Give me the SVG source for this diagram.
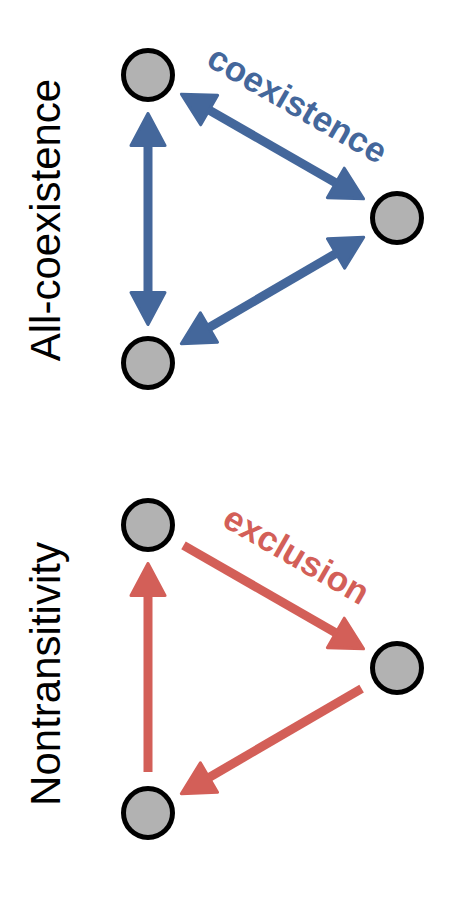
<svg xmlns="http://www.w3.org/2000/svg" width="450" height="900" viewBox="0 0 450 900">
<style>
.node{fill:#B2B2B2;stroke:#000;stroke-width:5}
.blue{stroke:#44679B;stroke-width:9;fill:none}
.red{stroke:#D35F58;stroke-width:9;fill:none}
.side{font-family:"Liberation Sans",Arial,sans-serif;font-size:42px;fill:#000}
.lab{font-family:"Liberation Sans",Arial,sans-serif;font-size:35px;font-weight:bold}
</style>
<defs>
<marker id="hb" viewBox="0 0 36 40" refX="12" refY="20" markerWidth="36" markerHeight="40" markerUnits="userSpaceOnUse" orient="auto-start-reverse">
<path d="M2,3 L34,20 L2,37 Z" fill="#44679B" stroke="#44679B" stroke-width="3" stroke-linejoin="round"/>
</marker>
<marker id="hr" viewBox="0 0 36 40" refX="12" refY="20" markerWidth="36" markerHeight="40" markerUnits="userSpaceOnUse" orient="auto">
<path d="M2,3 L34,20 L2,37 Z" fill="#D35F58" stroke="#D35F58" stroke-width="3" stroke-linejoin="round"/>
</marker>
</defs>
<text class="side" transform="translate(60,220) rotate(-90)" text-anchor="middle">All-coexistence</text>
<text class="side" transform="translate(60,674) rotate(-90)" text-anchor="middle">Nontransitivity</text>
<g id="connectors">
<line class="blue" x1="148" y1="135.5" x2="148" y2="302.5" marker-start="url(#hb)" marker-end="url(#hb)"/>
<line class="blue" x1="200.5" y1="105.1" x2="344.5" y2="187.9" marker-start="url(#hb)" marker-end="url(#hb)"/>
<line class="blue" x1="344.7" y1="248.4" x2="200.3" y2="332.6" marker-start="url(#hb)" marker-end="url(#hb)"/>
<line class="red" x1="183.5" y1="545.4" x2="344.5" y2="637.9" marker-end="url(#hr)"/>
<line class="red" x1="361.6" y1="688.6" x2="200.3" y2="782.6" marker-end="url(#hr)"/>
<line class="red" x1="148" y1="772" x2="148" y2="585.5" marker-end="url(#hr)"/>
<text class="lab" fill="#44679B" transform="translate(291.5,114.8) rotate(29.9)" text-anchor="middle">coexistence</text>
<text class="lab" fill="#D35F58" transform="translate(290.5,565.3) rotate(29.9)" text-anchor="middle">exclusion</text>
</g>
<g id="n1"><circle class="node" cx="148" cy="75" r="24.5"/></g>
<g id="n2"><circle class="node" cx="397" cy="218" r="24.5"/></g>
<g id="n3"><circle class="node" cx="148" cy="363" r="24.5"/></g>
<g id="n4"><circle class="node" cx="148" cy="525" r="24.5"/></g>
<g id="n5"><circle class="node" cx="397" cy="668" r="24.5"/></g>
<g id="n6"><circle class="node" cx="148" cy="813" r="24.5"/></g>
</svg>
